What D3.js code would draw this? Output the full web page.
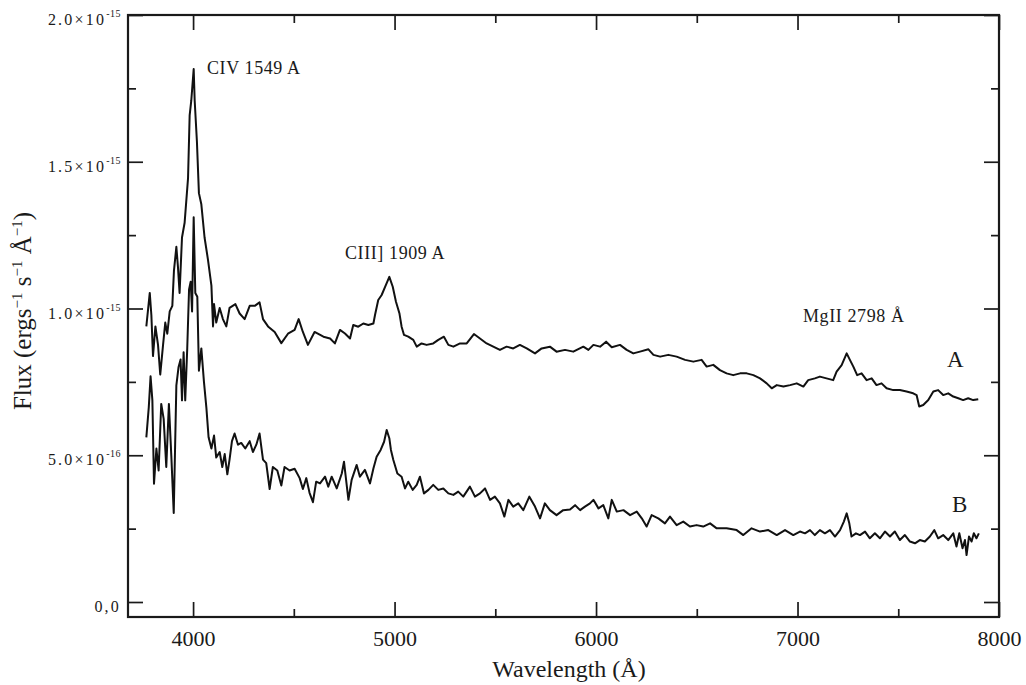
<!DOCTYPE html>
<html>
<head>
<meta charset="utf-8">
<script src="https://cdn.jsdelivr.net/npm/d3@7"></script>
<style>
  body { margin: 0; background: #ffffff; }
  svg text { font-family: "Liberation Serif", "Times New Roman", serif; fill: #1a1a1a; }
</style>
</head>
<body>
<script>
// flux values are in units of 1e-15 erg s^-1 cm^-2 A^-1
var waveA = [3768,3785,3793,3801,3813,3826,3837,3851,3862,3872,3884,3897,3905,3917,3925,3933,3945,3958,3975,3983,
  3991,4003,4008,4019,4029,4041,4057,4074,4091,4099,4104,4115,4132,4148,4165,4181,4210,4231,4256,4281,
  4306,4330,4347,4372,4405,4438,4471,4504,4524,4545,4570,4603,4647,4680,4704,4729,4754,4779,4795,4820,
  4845,4870,4895,4903,4919,4936,4953,4974,4991,5007,5024,5035,5047,5068,5093,5110,5134,5159,5192,5217,
  5245,5267,5292,5325,5358,5394,5424,5457,5490,5523,5556,5589,5622,5656,5697,5730,5771,5804,5846,5887,
  5937,5962,5987,6020,6050,6078,6119,6152,6185,6218,6260,6285,6318,6359,6400,6442,6483,6524,6549,6582,
  6615,6648,6681,6715,6748,6781,6814,6847,6872,6897,6930,6963,6996,7029,7053,7086,7111,7144,7177,7194,
  7219,7244,7260,7277,7296,7318,7343,7368,7392,7417,7442,7475,7508,7541,7574,7591,7604,7624,7649,7674,
  7698,7723,7748,7773,7798,7822,7847,7872,7897];
var fluxA = [0.939,1.053,0.977,0.838,0.939,0.876,0.775,0.876,0.952,0.914,0.990,1.009,1.128,1.210,1.141,1.053,1.242,1.292,1.444,1.658,
  1.708,1.816,1.708,1.570,1.393,1.355,1.242,1.166,1.078,0.939,1.015,0.952,1.002,0.964,0.939,1.002,1.015,0.983,0.964,1.009,
  1.009,1.021,0.964,0.939,0.920,0.882,0.914,0.927,0.964,0.920,0.876,0.920,0.904,0.898,0.881,0.927,0.915,0.898,0.944,0.938,
  0.949,0.944,0.949,0.978,1.029,1.046,1.074,1.108,1.074,1.023,0.984,0.938,0.910,0.904,0.893,0.870,0.881,0.876,0.881,0.893,
  0.904,0.876,0.870,0.881,0.881,0.913,0.898,0.881,0.870,0.859,0.870,0.864,0.876,0.864,0.847,0.864,0.870,0.853,0.859,0.853,
  0.870,0.859,0.876,0.870,0.887,0.868,0.876,0.859,0.847,0.853,0.861,0.842,0.836,0.842,0.836,0.825,0.819,0.825,0.802,0.808,
  0.790,0.779,0.773,0.779,0.779,0.773,0.762,0.745,0.728,0.739,0.734,0.739,0.745,0.734,0.756,0.762,0.768,0.762,0.756,0.785,
  0.807,0.847,0.825,0.802,0.773,0.779,0.756,0.762,0.739,0.745,0.728,0.722,0.722,0.717,0.711,0.705,0.666,0.671,0.688,0.717,
  0.722,0.705,0.711,0.700,0.694,0.688,0.694,0.688,0.691];

var waveB = [3768,3780,3789,3798,3806,3818,3829,3842,3854,3867,3880,3892,3904,3917,3928,3938,3945,3953,3961,3971,
  3980,3988,3995,4003,4011,4021,4029,4041,4054,4066,4077,4091,4104,4115,4132,4145,4157,4170,4181,4193,
  4206,4223,4239,4259,4281,4297,4314,4330,4347,4363,4380,4396,4418,4438,4454,4479,4504,4529,4545,4562,
  4578,4595,4611,4630,4655,4671,4688,4713,4738,4749,4771,4787,4812,4828,4853,4878,4895,4911,4931,4948,
  4961,4974,4982,4994,5014,5035,5052,5068,5090,5110,5126,5146,5168,5192,5217,5242,5267,5292,5316,5341,
  5374,5399,5424,5449,5474,5498,5523,5545,5565,5589,5614,5639,5669,5697,5722,5746,5771,5804,5837,5871,
  5896,5921,5945,5970,5987,6012,6036,6061,6078,6103,6136,6169,6202,6227,6251,6276,6309,6342,6367,6400,
  6433,6466,6499,6532,6566,6599,6648,6698,6731,6772,6814,6855,6897,6938,6979,7012,7037,7062,7086,7111,
  7136,7161,7186,7211,7230,7244,7257,7268,7290,7310,7335,7359,7384,7409,7434,7459,7483,7508,7533,7558,
  7583,7607,7632,7657,7679,7698,7723,7748,7773,7789,7803,7819,7831,7839,7851,7864,7875,7888,7900];
var fluxB = [0.561,0.662,0.769,0.687,0.403,0.523,0.448,0.675,0.624,0.460,0.675,0.498,0.303,0.738,0.801,0.826,0.687,0.851,0.687,0.864,
  1.065,1.091,0.990,1.311,1.053,1.040,0.788,0.864,0.750,0.662,0.561,0.523,0.567,0.492,0.511,0.460,0.504,0.435,0.485,0.548,
  0.574,0.536,0.542,0.523,0.548,0.511,0.536,0.574,0.485,0.473,0.385,0.460,0.448,0.397,0.460,0.448,0.454,0.422,0.385,0.422,
  0.372,0.340,0.410,0.404,0.427,0.393,0.427,0.387,0.438,0.478,0.348,0.416,0.467,0.427,0.450,0.404,0.455,0.495,0.518,0.546,
  0.586,0.558,0.518,0.484,0.438,0.427,0.387,0.410,0.382,0.399,0.427,0.370,0.382,0.399,0.382,0.387,0.370,0.365,0.376,0.359,
  0.393,0.359,0.370,0.387,0.348,0.359,0.336,0.291,0.348,0.325,0.336,0.313,0.359,0.325,0.285,0.336,0.313,0.296,0.313,0.315,
  0.330,0.313,0.325,0.336,0.348,0.319,0.330,0.285,0.348,0.308,0.313,0.296,0.308,0.285,0.257,0.296,0.285,0.268,0.291,0.262,
  0.274,0.257,0.262,0.257,0.268,0.251,0.251,0.245,0.228,0.251,0.240,0.245,0.228,0.245,0.228,0.240,0.234,0.245,0.228,0.245,
  0.234,0.245,0.223,0.245,0.274,0.302,0.268,0.223,0.234,0.228,0.240,0.217,0.234,0.217,0.240,0.223,0.240,0.211,0.228,0.206,
  0.200,0.211,0.206,0.223,0.245,0.217,0.228,0.211,0.234,0.189,0.234,0.183,0.211,0.160,0.223,0.206,0.234,0.217,0.234];

var xMajor = [4000, 5000, 6000, 7000, 8000];
var xMinor = [4500, 5500, 6500, 7500];
var yMajor = [0, 0.5, 1.0, 1.5, 2.0];
var yMinor = [0.25, 0.75, 1.25, 1.75];
var yMantissa = ["0,0", "5.0", "1.0", "1.5", "2.0"];
var yExponent = ["", "-16", "-15", "-15", "-15"];

var lineNotes = [
  {text: "CIV 1549 A", wave: 4069, flux: 1.80},
  {text: "CIII] 1909 A", wave: 4754, flux: 1.168},
  {text: "MgII 2798 \u00c5", wave: 7027, flux: 0.955}
];
var seriesNames = [
  {text: "A", wave: 7742, flux: 0.80},
  {text: "B", wave: 7767, flux: 0.307}
];

var WIDTH = 1026, HEIGHT = 685;
var PLOT_LEFT = 128, PLOT_RIGHT = 999, PLOT_TOP = 15, PLOT_BOTTOM = 617;
var MAJOR_TICK = 15, MINOR_TICK = 8;
var INK = "#1a1a1a";

var svg = d3.select("body").append("svg")
    .attr("width", WIDTH)
    .attr("height", HEIGHT);

var x = d3.scaleLinear().domain([3677, 8000]).range([PLOT_LEFT, PLOT_RIGHT]);
var y = d3.scaleLinear().domain([-0.0511, 2.0]).range([PLOT_BOTTOM, PLOT_TOP]);

function cleanAxis(g) {
  g.select(".domain").remove();
  g.selectAll(".tick line").attr("stroke", INK).attr("stroke-width", 1.7);
}

// ticks on all four sides, pointing inward
svg.append("g").attr("transform", "translate(0," + PLOT_BOTTOM + ")")
    .call(d3.axisBottom(x).tickValues(xMajor).tickSizeInner(-MAJOR_TICK).tickSizeOuter(0)
      .tickPadding(13).tickFormat(d3.format("d")))
    .call(cleanAxis)
    .call(g => g.selectAll(".tick text").attr("font-size", 22).attr("fill", INK)
      .style("font-family", "'Liberation Serif', serif"));
svg.append("g").attr("transform", "translate(0," + PLOT_BOTTOM + ")")
    .call(d3.axisBottom(x).tickValues(xMinor).tickSizeInner(-MINOR_TICK).tickSizeOuter(0).tickFormat(""))
    .call(cleanAxis);
svg.append("g").attr("transform", "translate(0," + PLOT_TOP + ")")
    .call(d3.axisTop(x).tickValues(xMajor).tickSizeInner(-MAJOR_TICK).tickSizeOuter(0).tickFormat(""))
    .call(cleanAxis);
svg.append("g").attr("transform", "translate(0," + PLOT_TOP + ")")
    .call(d3.axisTop(x).tickValues(xMinor).tickSizeInner(-MINOR_TICK).tickSizeOuter(0).tickFormat(""))
    .call(cleanAxis);

svg.append("g").attr("transform", "translate(" + PLOT_LEFT + ",0)")
    .call(d3.axisLeft(y).tickValues(yMajor).tickSizeInner(-MAJOR_TICK).tickSizeOuter(0).tickFormat(""))
    .call(cleanAxis);
svg.append("g").attr("transform", "translate(" + PLOT_LEFT + ",0)")
    .call(d3.axisLeft(y).tickValues(yMinor).tickSizeInner(-MINOR_TICK).tickSizeOuter(0).tickFormat(""))
    .call(cleanAxis);
svg.append("g").attr("transform", "translate(" + PLOT_RIGHT + ",0)")
    .call(d3.axisRight(y).tickValues(yMajor).tickSizeInner(-MAJOR_TICK).tickSizeOuter(0).tickFormat(""))
    .call(cleanAxis);
svg.append("g").attr("transform", "translate(" + PLOT_RIGHT + ",0)")
    .call(d3.axisRight(y).tickValues(yMinor).tickSizeInner(-MINOR_TICK).tickSizeOuter(0).tickFormat(""))
    .call(cleanAxis);

// y tick labels like 1.5x10^-15
var yLabels = svg.append("g").selectAll("text")
    .data(yMajor).enter()
  .append("text")
    .attr("x", 121)
    .attr("y", function (d) { return y(d) + 10; })
    .attr("text-anchor", "end")
    .attr("font-size", 16)
    .attr("letter-spacing", 2.2);
yLabels.append("tspan")
    .text(function (d, i) { return yExponent[i] ? yMantissa[i] + "\u00d710" : yMantissa[i]; });
yLabels.append("tspan")
    .attr("dy", -8)
    .attr("font-size", 10)
    .attr("letter-spacing", 0.5)
    .text(function (d, i) { return yExponent[i]; });

// frame
svg.append("rect")
    .attr("x", PLOT_LEFT)
    .attr("y", PLOT_TOP)
    .attr("width", PLOT_RIGHT - PLOT_LEFT)
    .attr("height", PLOT_BOTTOM - PLOT_TOP)
    .attr("fill", "none")
    .attr("stroke", INK)
    .attr("stroke-width", 2.2);

// spectra
var line = d3.line()
    .x(function (d) { return x(d[0]); })
    .y(function (d) { return y(d[1]); });

[[waveA, fluxA], [waveB, fluxB]].forEach(function (s) {
  svg.append("path")
      .datum(d3.zip(s[0], s[1]))
      .attr("d", line)
      .attr("fill", "none")
      .attr("stroke", "#111")
      .attr("stroke-width", 2)
      .attr("stroke-linejoin", "round");
});

// emission line labels and series names
svg.append("g").selectAll("text")
    .data(lineNotes).enter()
  .append("text")
    .attr("x", function (d) { return x(d.wave); })
    .attr("y", function (d) { return y(d.flux); })
    .attr("font-size", 18)
    .attr("letter-spacing", 0.6)
    .text(function (d) { return d.text; });

svg.append("g").selectAll("text")
    .data(seriesNames).enter()
  .append("text")
    .attr("x", function (d) { return x(d.wave); })
    .attr("y", function (d) { return y(d.flux); })
    .attr("font-size", 23)
    .text(function (d) { return d.text; });

// axis titles
svg.append("text")
    .attr("x", 569)
    .attr("y", 677)
    .attr("text-anchor", "middle")
    .attr("font-size", 24)
    .text("Wavelength (\u00c5)");

var yTitle = svg.append("text")
    .attr("transform", "translate(31,311) rotate(-90)")
    .attr("text-anchor", "middle")
    .attr("font-size", 25);
yTitle.append("tspan").text("Flux (ergs");
yTitle.append("tspan").attr("dy", -9).attr("font-size", 15).text("\u22121");
yTitle.append("tspan").attr("dy", 9).text(" s");
yTitle.append("tspan").attr("dy", -9).attr("font-size", 15).text("\u22121");
yTitle.append("tspan").attr("dy", 9).text(" \u00c5");
yTitle.append("tspan").attr("dy", -9).attr("font-size", 15).text("\u22121");
yTitle.append("tspan").attr("dy", 9).text(")");
</script>
</body>
</html>
